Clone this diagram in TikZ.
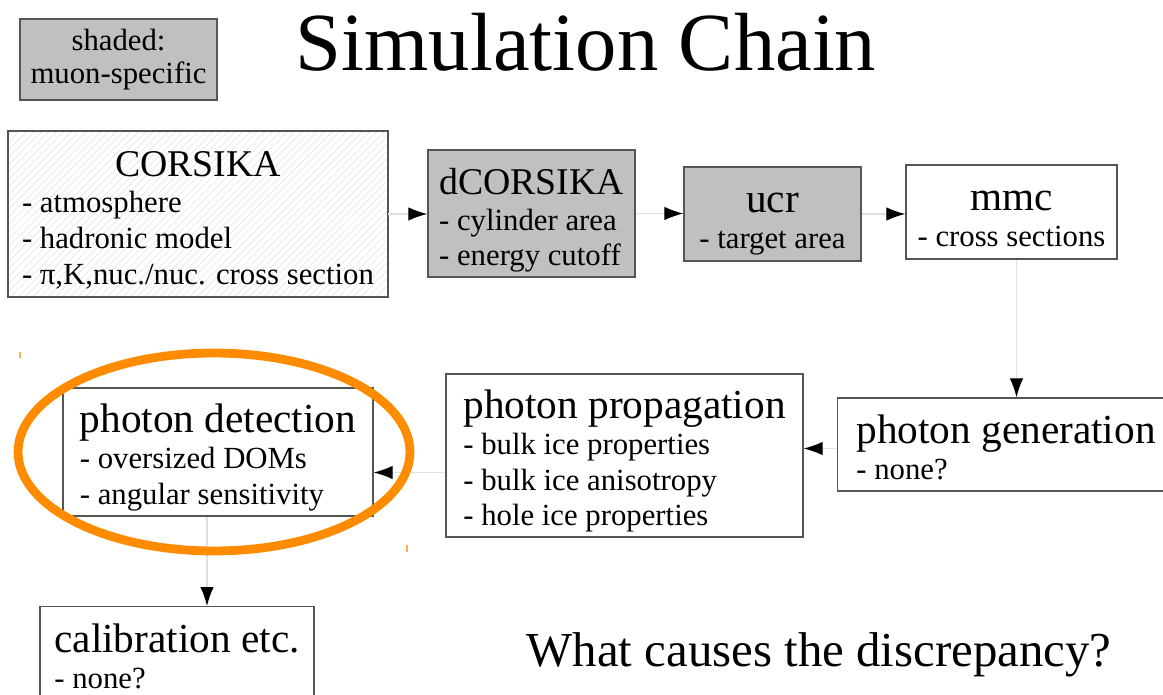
\documentclass[tikz,border=0pt]{standalone}
\usepackage{fontspec}
\setmainfont{Liberation Serif}
\usetikzlibrary{arrows.meta,patterns.meta}
\setlength{\parindent}{0pt}

\definecolor{boxline}{HTML}{555555}
\definecolor{muongray}{HTML}{C0C0C0}
\definecolor{markorange}{HTML}{FF8C00}

% heading and item lines of a box
\newcommand{\boxhead}[1]{\fontsize{23.5}{28}\selectfont\rule{0pt}{25pt}#1}
\newcommand{\stage}[2]{\begin{tabular}{@{}l@{}}\multicolumn{1}{@{}c@{}}{\boxhead{#1}}\\#2\end{tabular}}

\tikzset{
	stagebox/.style={draw=boxline, line width=0.8pt, fill=white, inner sep=0pt, font=\fontsize{17.5}{20.4}\selectfont},
	muonbox/.style={stagebox, fill=muongray},
	link/.style={draw=black!12, line width=0.7pt, -{Latex[black,length=0.38cm,width=0.27cm]}}
}

\begin{document}
\begin{tikzpicture}[x=0.02cm,y=-0.02cm]
	\clip (0,0) rectangle (1163,695);
	\useasboundingbox (0,0) rectangle (1163,695);

	% legend and title
	\node[muonbox, align=center, minimum width=3.94cm, minimum height=1.62cm] (legend) at (118.5,59.5) {shaded:\\[-2pt]muon-specific};
	\node[font=\fontsize{47}{50}\selectfont] (title) at (586,42) {Simulation Chain};

	% first row
	\node[stagebox, minimum width=7.6cm, minimum height=3.32cm, pattern={Lines[angle=45,distance=3pt,line width=0.3pt]}, pattern color=black!12] (corsika) at (198,214)
		{\stage{\fontsize{21.5}{28}\selectfont CORSIKA}{- atmosphere\\- hadronic model\\- π,K,nuc./nuc. cross section}};
	\node[muonbox, minimum width=4.14cm, minimum height=2.54cm] (dcorsika) at (531.5,213.5)
		{\stage{\fontsize{21.5}{28}\selectfont dCORSIKA}{- cylinder area\\- energy cutoff}};
	\node[muonbox, minimum width=3.54cm, minimum height=1.88cm] (ucr) at (772.5,214)
		{\stage{ucr}{- target area}};
	\node[stagebox, minimum width=4.22cm, minimum height=1.88cm] (mmc) at (1011.5,212)
		{\stage{mmc}{- cross sections}};

	% second row
	\node[stagebox, minimum width=6.74cm, minimum height=1.86cm] (photgen) at (1006,444.5)
		{\stage{photon generation}{- none?}};
	\node[stagebox, minimum width=7.14cm, minimum height=3.26cm] (photprop) at (624.5,455.5)
		{\stage{photon propagation}{- bulk ice properties\\- bulk ice anisotropy\\- hole ice properties}};
	\node[stagebox, minimum width=6.2cm, minimum height=2.56cm] (photdet) at (218,452)
		{\stage{photon detection}{- oversized DOMs\\- angular sensitivity}};

	% last row
	\node[stagebox, anchor=north, minimum width=5.48cm, minimum height=1.9cm] (calib) at (177,606)
		{\stage{calibration etc.}{- none?}};
	\node[font=\fontsize{27.8}{32}\selectfont] (question) at (819,655) {What causes the discrepancy?};

	% connectors
	\draw[link] (corsika.east) -- (corsika.east -| dcorsika.west);
	\draw[link] (dcorsika.east) -- (dcorsika.east -| ucr.west);
	\draw[link] (ucr.east) -- (ucr.east -| mmc.west);
	\draw[link] ([xshift=0.1cm]mmc.south) -- ([xshift=0.1cm]mmc.south |- photgen.north);
	\draw[link] ([yshift=-0.08cm]photgen.west) -- ([yshift=-0.08cm]photgen.west -| photprop.east);
	\draw[link] ([yshift=-0.34cm]photprop.west) -- ([yshift=-0.34cm]photprop.west -| photdet.east);
	\draw[link] ([xshift=-0.22cm]photdet.south) -- ([xshift=-0.22cm]photdet.south |- calib.north);

	% orange mark round photon detection
	\draw[markorange, line width=5pt] (214,452) ellipse (3.92cm and 1.98cm);
	\draw[markorange!70, line width=0.6pt] (20,352) -- (20,358);
	\draw[markorange!70, line width=0.6pt] (407,545) -- (407,552);
\end{tikzpicture}
\end{document}
